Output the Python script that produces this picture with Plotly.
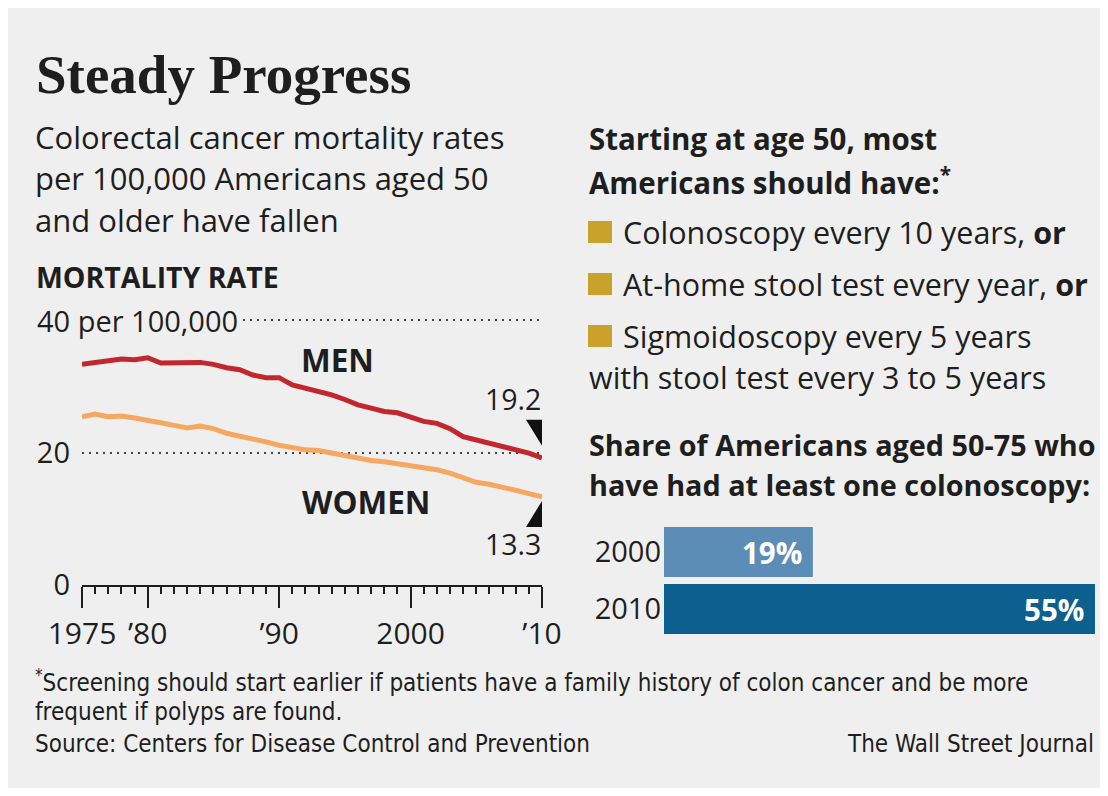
import plotly.graph_objects as go

W, H = 1092, 780
BG = "#efefef"
INK = "#1e1e1e"
SANS = "'Open Sans', Lato, sans-serif"
COND = "'DejaVu Sans Condensed', 'Liberation Sans Narrow', sans-serif"

# ---------------- data ----------------
years = list(range(1975, 2011))
men = [33.3, 33.6, 33.8, 34.1, 34.0, 34.3, 33.5, 33.5, 33.6, 33.6,
       33.3, 32.8, 32.5, 31.7, 31.3, 31.3, 30.2, 29.7, 29.1, 28.7,
       28.0, 27.2, 26.7, 26.2, 26.0, 25.4, 24.7, 24.4, 23.6, 22.4,
       21.9, 21.4, 20.9, 20.5, 19.9, 19.2]
women = [25.4, 25.8, 25.4, 25.5, 25.2, 24.9, 24.5, 24.1, 23.7, 24.0,
         23.6, 22.9, 22.5, 22.0, 21.6, 21.1, 20.7, 20.4, 20.3, 19.9,
         19.6, 19.2, 18.8, 18.6, 18.3, 18.1, 17.8, 17.4, 16.9, 16.2,
         15.5, 15.2, 14.8, 14.3, 13.8, 13.3]
x_ticks = [1975, 1980, 1990, 2000, 2010]
x_ticktext = ["1975", "\u201980", "\u201990", "2000", "\u201910"]
y_ticks = [0, 20, 40]
y_ticktext = ["0", "20", ""]
bar_years = ["2000", "2010"]
bar_share = [19, 55]
bar_colors = ["#5b8db6", "#0c5f8f"]
bullets = ["Colonoscopy every 10 years, <b>or</b>",
           "At-home stool test every year, <b>or</b>",
           "Sigmoidoscopy every 5 years"]

# screen-pixel -> paper fraction helpers (figure sits 8px in from the page corner)
def fx(X):
    return (X - 8) / W

def fy(Y):
    return 1 - (Y - 8) / H

# line panel geometry (screen px)
LX0, LX1 = 82, 542
Y0, Y40 = 585, 320
ppu = (Y0 - Y40) / 40.0
ytop = 40.3
ytop_px = Y0 - ytop * ppu

fig = go.Figure()

fig.add_trace(go.Scatter(x=years, y=men, mode="lines",
                         line=dict(color="#c1272d", width=5),
                         xaxis="x", yaxis="y", hoverinfo="skip"))
fig.add_trace(go.Scatter(x=years, y=women, mode="lines",
                         line=dict(color="#f6a760", width=5),
                         xaxis="x", yaxis="y", hoverinfo="skip"))

fig.add_trace(go.Bar(y=bar_years, x=bar_share, orientation="h",
                     marker=dict(color=bar_colors, line=dict(width=0)),
                     text=[f"{v}%\u00a0" for v in bar_share],
                     textposition="inside", insidetextanchor="end",
                     textfont=dict(family=SANS, size=29.5, color="white", weight="bold"),
                     xaxis="x2", yaxis="y2", hoverinfo="skip"))

ann = []

def text(t, X, Y, size, family=SANS, xanchor="left", weight="normal", color=INK):
    ann.append(dict(text=t, x=fx(X), y=fy(Y), xref="paper", yref="paper",
                    xanchor=xanchor, yanchor="middle", showarrow=False,
                    font=dict(family=family, size=size, color=color, weight=weight)))

text("Steady Progress", 34, 74, 55, family="'Liberation Serif', serif", weight="bold")
text("Colorectal cancer mortality rates", 33, 137, 31)
text("per 100,000 Americans aged 50", 33, 178, 31)
text("and older have fallen", 33, 220, 31)
text("MORTALITY RATE", 34, 277, 28.5, weight="bold")

# right panel
text("Starting at age 50, most", 587, 139, 29.5, weight="bold")
text("Americans should have:<sup>*</sup>", 587, 181, 29.5, weight="bold")
for i, b in enumerate(bullets):
    text(b, 621, 232 + i * 52, 30.5)
text("with stool test every 3 to 5 years", 587, 377, 30.5)
text("Share of Americans aged 50-75 who", 587, 444, 28.8, weight="bold")
text("have had at least one colonoscopy:", 587, 484, 28.8, weight="bold")

# footnotes
text("<sup>*</sup>Screening should start earlier if patients have a family history of colon cancer and be more",
     33, 681, 24, family=COND)
text("frequent if polyps are found.", 33, 712, 24, family=COND)
text("Source: Centers for Disease Control and Prevention", 33, 744, 24, family=COND)
text("The Wall Street Journal", 1096, 744, 24, family=COND, xanchor="right")

# line panel labels
ann.append(dict(text="40 per 100,000", x=fx(34), y=40, xref="paper", yref="y",
                xanchor="left", yanchor="middle", showarrow=False, bgcolor=BG,
                borderpad=2, font=dict(family=SANS, size=29, color=INK)))
text("MEN", 337, 360, 31.5, xanchor="center", weight="bold")
text("WOMEN", 366, 501, 31.5, xanchor="center", weight="bold")
ann.append(dict(text="19.2", x=years[-1], y=men[-1], xref="x", yref="y",
                xanchor="right", yanchor="middle", showarrow=False, xshift=1, yshift=59,
                font=dict(family=SANS, size=28.5, color=INK)))
ann.append(dict(text="13.3", x=years[-1], y=women[-1], xref="x", yref="y",
                xanchor="right", yanchor="middle", showarrow=False, xshift=1, yshift=-47,
                font=dict(family=SANS, size=28.5, color=INK)))

shapes = []
# pointer triangles anchored at the series end points
shapes.append(dict(type="path", xref="x", yref="y", xsizemode="pixel", ysizemode="pixel",
                   xanchor=years[-1], yanchor=men[-1],
                   path="M-16,38 L0,38 L0,12 Z", fillcolor="#111", line=dict(width=0)))
shapes.append(dict(type="path", xref="x", yref="y", xsizemode="pixel", ysizemode="pixel",
                   xanchor=years[-1], yanchor=women[-1],
                   path="M0,-4 L0,-30 L-16,-30 Z", fillcolor="#111", line=dict(width=0)))
# bullet squares
for i in range(3):
    cy = 232 + i * 52
    shapes.append(dict(type="rect", xref="paper", yref="paper",
                       x0=fx(588), x1=fx(612), y0=fy(cy + 11), y1=fy(cy - 11),
                       fillcolor="#c9a22c", line=dict(width=0)))

fig.update_layout(
    width=W, height=H,
    margin=dict(l=0, r=0, t=0, b=0, pad=0, autoexpand=False),
    paper_bgcolor=BG, plot_bgcolor=BG, showlegend=False,
    annotations=ann, shapes=shapes,
    xaxis=dict(domain=[fx(LX0), fx(LX1)], range=[1975, 2010],
               tickvals=x_ticks, ticktext=x_ticktext, ticks="outside",
               ticklen=21, tickwidth=2, tickcolor=INK,
               minor=dict(dtick=1, ticks="outside", ticklen=7, tickwidth=1.5, tickcolor=INK),
               showline=True, linecolor=INK, linewidth=2, showgrid=False, zeroline=False,
               automargin=False,
               tickfont=dict(family=SANS, size=30, color=INK), fixedrange=True),
    yaxis=dict(domain=[fy(Y0), fy(ytop_px)], range=[0, ytop],
               tickvals=y_ticks, ticktext=y_ticktext, ticks="",
               showgrid=True, gridcolor="#444", gridwidth=1.5, griddash="2px,5px",
               zeroline=False, showline=False, ticklabelstandoff=11, automargin=False,
               tickfont=dict(family=SANS, size=29, color=INK), fixedrange=True),
    xaxis2=dict(domain=[fx(664), fx(1095)], range=[0, 55], visible=False,
                anchor="y2", automargin=False, fixedrange=True),
    yaxis2=dict(domain=[fy(637.5), fy(523.5)], autorange="reversed", anchor="x2",
                showgrid=False, zeroline=False, showline=False, ticks="",
                ticklabelstandoff=2, automargin=False,
                tickfont=dict(family=SANS, size=29, color=INK), fixedrange=True),
    bargap=0.12,
)

fig.write_html("out.html")
